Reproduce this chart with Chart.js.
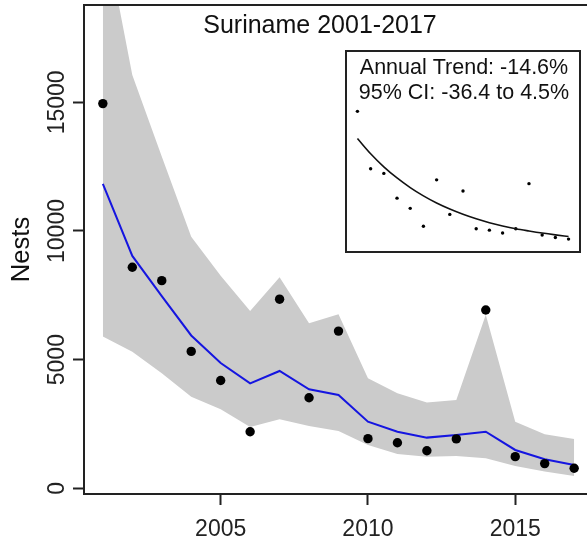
<!DOCTYPE html>
<html><head><meta charset="utf-8">
<script src="https://cdn.jsdelivr.net/npm/chart.js@4"></script>
<style>
html,body{margin:0;padding:0;background:#fff;overflow:hidden;width:587px;height:548px;}
#wrap{position:relative;width:600px;height:548px;}
#main{position:absolute;left:0;top:0;width:600px;height:548px;}
#inset{position:absolute;left:345px;top:50px;width:236px;height:203px;}
</style></head><body>
<div id="wrap">
<canvas id="main" width="600" height="548"></canvas>
<canvas id="inset" width="236" height="203"></canvas>
</div>
<script>
// ---- data ----
const years  = [2001,2002,2003,2004,2005,2006,2007,2008,2009,2010,2011,2012,2013,2014,2015,2016,2017];
const nests  = [14950,8590,8070,5320,4190,2200,7350,3520,6110,1930,1770,1460,1920,6930,1230,960,780];
const fitted = [11830,9030,7470,5940,4870,4080,4560,3850,3630,2590,2200,1970,2070,2200,1490,1130,905];
const upper  = [22000,16060,12890,9780,8260,6890,8200,6410,6760,4280,3690,3330,3430,6740,2590,2100,1920];
const lower  = [5900,5310,4470,3560,3070,2380,2680,2420,2230,1680,1330,1230,1260,1170,870,650,480];
const trend  = [11940,10250,8800,7560,6490,5570,4780,4110,3530,3030,2600,2240,1930,1680,1450,1250,1070];
const xTicks = [2005,2010,2015];
const yTicks = [0,5000,10000,15000];
const mainTitle = 'Suriname 2001-2017';
const yTitle = 'Nests';
const insetLines = ['Annual Trend: -14.6%','95% CI: -36.4 to 4.5%'];

const FONT = "'Liberation Sans', Arial, Helvetica, sans-serif";
const pts = arr => years.map((yr,i)=>({x:yr, y:arr[i]}));

const framePlugin = {
  id:'frame',
  afterDatasetsDraw(chart){
    const {ctx, chartArea:a} = chart;
    ctx.save();
    ctx.strokeStyle = '#222'; ctx.lineWidth = 2;
    ctx.strokeRect(a.left, a.top, a.right-a.left, a.bottom-a.top);
    ctx.restore();
  }
};
const titlePlugin = {
  id:'plotTitle',
  afterDraw(chart){
    const ctx = chart.ctx;
    ctx.save();
    ctx.font = '25px ' + FONT;
    ctx.fillStyle = '#111';
    ctx.textAlign = 'center'; ctx.textBaseline = 'middle';
    ctx.fillText(mainTitle, 320, 26);
    ctx.restore();
  }
};

const tickGrid = {display:true, drawOnChartArea:false, drawTicks:true, tickLength:11, tickColor:'#222', tickWidth:2};

new Chart(document.getElementById('main'), {
  type:'line',
  data:{datasets:[
    {data:pts(upper), fill:'+1', backgroundColor:'#cbcbcb', borderWidth:0, borderColor:'rgba(0,0,0,0)', pointRadius:0, tension:0, order:4},
    {data:pts(lower), fill:false, borderWidth:0, borderColor:'rgba(0,0,0,0)', pointRadius:0, tension:0, order:3},
    {data:pts(fitted), fill:false, borderColor:'#1515e0', borderWidth:2, pointRadius:0, tension:0, order:2},
    {data:pts(nests), showLine:false, pointRadius:4.7, pointBackgroundColor:'#000', pointBorderWidth:0, order:1}
  ]},
  options:{
    responsive:false, animation:false, devicePixelRatio:1,
    layout:{padding:{top:5,right:7,left:0,bottom:0}},
    plugins:{legend:{display:false}, tooltip:{enabled:false}},
    scales:{
      x:{type:'linear', min:2000.36, max:2017.64,
        afterBuildTicks:s=>{ s.ticks = xTicks.map(v=>({value:v})); },
        afterFit:s=>{ s.height = 54; },
        grid:tickGrid, border:{display:false},
        ticks:{autoSkip:false, minRotation:0, maxRotation:0, padding:11, color:'#222', font:{family:FONT,size:23}, callback:v=>String(v)}
      },
      y:{type:'linear', min:-221, max:18782,
        afterBuildTicks:s=>{ s.ticks = yTicks.map(v=>({value:v})); },
        afterFit:s=>{ s.width = 84; },
        grid:tickGrid, border:{display:false},
        ticks:{autoSkip:false, minRotation:90, maxRotation:90, crossAlign:'center', padding:-17, color:'#222', font:{family:FONT,size:23}, callback:v=>String(v)},
        title:{display:true, text:yTitle, color:'#111', font:{family:FONT,size:25.6}, padding:{top:7,bottom:0}}
      }
    }
  },
  plugins:[framePlugin, titlePlugin]
});

const insetPlugin = {
  id:'insetBox',
  beforeDraw(chart){
    const ctx = chart.ctx;
    ctx.save(); ctx.fillStyle = '#fff'; ctx.fillRect(0,0,chart.width,chart.height); ctx.restore();
  },
  afterDraw(chart){
    const ctx = chart.ctx;
    ctx.save();
    ctx.strokeStyle = '#222'; ctx.lineWidth = 2;
    ctx.strokeRect(1,1,chart.width-2,chart.height-2);
    ctx.font = '21.5px ' + FONT;
    ctx.fillStyle = '#111';
    ctx.textAlign = 'center'; ctx.textBaseline = 'middle';
    ctx.fillText(insetLines[0], 119, 18);
    ctx.fillText(insetLines[1], 119, 43.5);
    ctx.restore();
  }
};

new Chart(document.getElementById('inset'), {
  type:'line',
  data:{datasets:[
    {data:pts(trend), fill:false, borderColor:'#111', borderWidth:1.6, pointRadius:0, cubicInterpolationMode:'monotone'},
    {data:pts(nests), showLine:false, pointRadius:1.7, pointBackgroundColor:'#000', pointBorderWidth:0}
  ]},
  options:{
    responsive:false, animation:false, devicePixelRatio:1,
    layout:{padding:0},
    plugins:{legend:{display:false}, tooltip:{enabled:false}},
    scales:{
      x:{type:'linear', display:false, min:2000.36, max:2017.64},
      y:{type:'linear', display:false, min:-321, max:21316}
    }
  },
  plugins:[insetPlugin]
});
</script>
</body></html>
